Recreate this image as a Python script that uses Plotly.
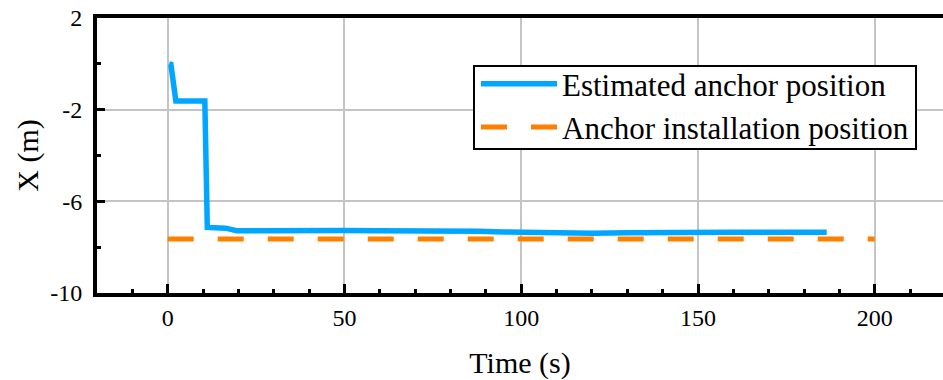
import plotly.graph_objects as go

# Estimated anchor position (time s, X m)
est_time = [0.4, 0.9, 2.3, 6.0, 10.5, 11.2, 14.0, 16.4, 19.5, 25, 30, 40, 50, 60, 70, 80, 88, 95,
            100, 110, 120, 130, 140, 150, 155, 160, 170, 180, 186.4]
est_x = [0.0, -0.02, -1.62, -1.62, -1.62, -7.14, -7.15, -7.17, -7.28, -7.27, -7.26, -7.27, -7.27,
         -7.28, -7.27, -7.28, -7.30, -7.34, -7.36, -7.37, -7.39, -7.37, -7.38, -7.37, -7.34,
         -7.35, -7.35, -7.35, -7.35]

# Anchor installation position
inst_time = [0, 200]
inst_x = [-7.64, -7.64]

x_tickvals = [0, 50, 100, 150, 200]
x_ticktext = ["0", "50", "100", "150", "200"]
y_tickvals = [2, -2, -6, -10]
y_ticktext = ["2", "-2", "-6", "-10"]

FONT = "Liberation Serif"
L, T, W, H = 97, 18, 846, 275


def px_x(p):
    return (p - L) / W


def px_y(p):
    return (T + H - p) / H


fig = go.Figure()
fig.add_trace(go.Scatter(x=est_time, y=est_x, mode="lines", name="Estimated anchor position",
                         line=dict(color="#00A6FF", width=5.5)))
fig.add_trace(go.Scatter(x=inst_time, y=inst_x, mode="lines", name="Anchor installation position",
                         line=dict(color="#FF8000", width=5, dash="26px,24px")))

# legend frame
fig.add_shape(type="rect", xref="paper", yref="paper",
              x0=px_x(474), x1=px_x(916), y0=px_y(149), y1=px_y(66),
              line=dict(color="black", width=2), fillcolor="white", layer="above")

fig.update_layout(
    width=943, height=380,
    margin=dict(l=L, r=0, t=T, b=87),
    paper_bgcolor="white", plot_bgcolor="white",
    font=dict(family=FONT, color="black"),
    showlegend=True,
    legend=dict(x=px_x(476), y=px_y(57), xanchor="left", yanchor="top",
                bgcolor="rgba(0,0,0,0)", borderwidth=0,
                font=dict(family=FONT, size=31, color="black"),
                itemwidth=76, tracegroupgap=0),
)
fig.update_xaxes(
    range=[-20, 219.3], tickmode="array", tickvals=x_tickvals, ticktext=x_ticktext,
    showline=True, linecolor="black", linewidth=4, mirror=True,
    ticks="inside", ticklen=9, tickwidth=3, tickcolor="black",
    minor=dict(dtick=10, tick0=0, ticks="inside", ticklen=4, tickwidth=3, tickcolor="black", showgrid=False),
    showgrid=True, gridcolor="#c4c4c4", gridwidth=2, zeroline=False,
    tickfont=dict(family=FONT, size=24), ticklabelstandoff=0,
    title=dict(text="Time (s)", font=dict(family=FONT, size=30), standoff=24),
)
fig.update_yaxes(
    range=[-10, 2], tickmode="array", tickvals=y_tickvals, ticktext=y_ticktext,
    showline=True, linecolor="black", linewidth=4, mirror=False,
    ticks="inside", ticklen=8, tickwidth=3, tickcolor="black",
    minor=dict(dtick=2, tick0=0, ticks="inside", ticklen=4, tickwidth=3, tickcolor="black", showgrid=False),
    showgrid=True, gridcolor="#c4c4c4", gridwidth=2, zeroline=False,
    tickfont=dict(family=FONT, size=24), ticklabelstandoff=6,
    title=dict(text="X (m)", font=dict(family=FONT, size=30), standoff=4),
)

fig.write_html("out.html", config={"displayModeBar": False},
               post_script="document.body.style.margin='0';")
